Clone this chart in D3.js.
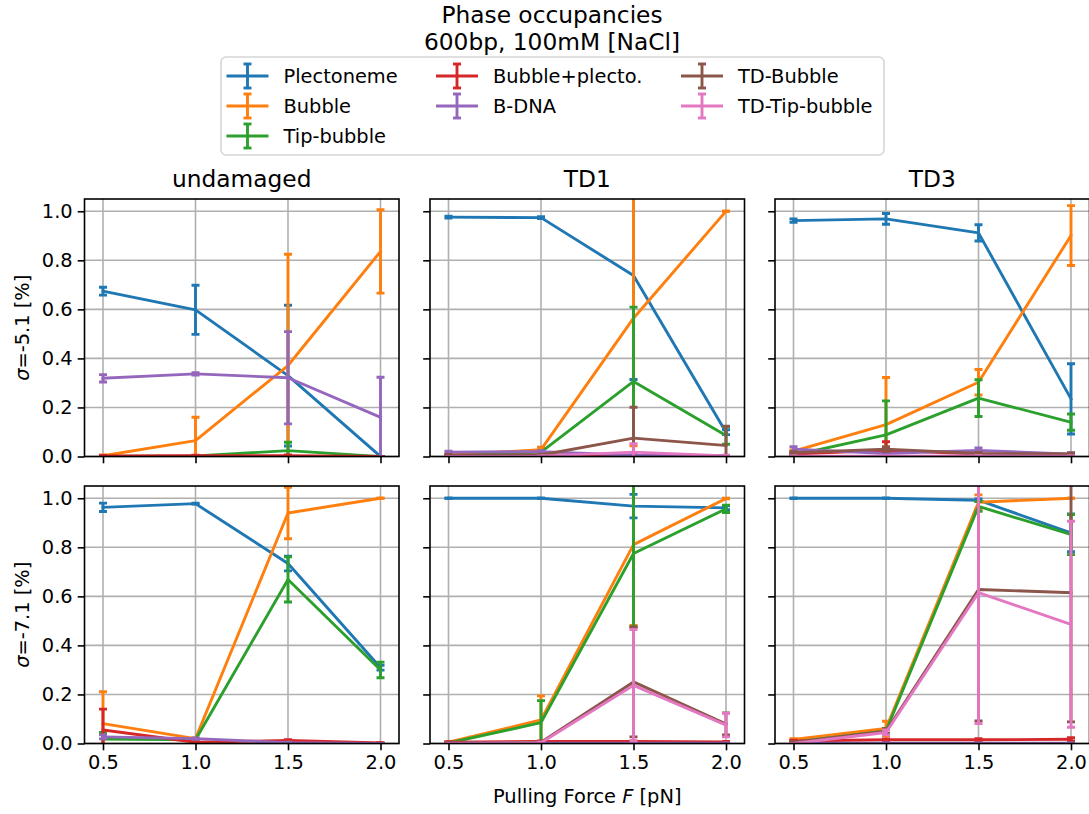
<!DOCTYPE html>
<html><head><meta charset="utf-8">
<script src="https://cdn.jsdelivr.net/npm/d3@7"></script>
<style>body{margin:0;background:#fff}svg{display:block;font-family:"DejaVu Sans",sans-serif}</style>
</head><body><svg id="c" width="1089" height="814"></svg>
<script>
// ---------- data ----------
const forces = [0.5, 1.0, 1.5, 2.0];
const seriesNames = ["Plectoneme","Bubble","Tip-bubble","Bubble+plecto.","B-DNA","TD-Bubble","TD-Tip-bubble"];
const seriesColors = ["#1f77b4","#ff7f0e","#2ca02c","#d62728","#9467bd","#8c564b","#e377c2"];
const conditions = ["undamaged","TD1","TD3"];
const sigmaLabels = ["-5.1","-7.1"];
const xTicks = [0.5, 1.0, 1.5, 2.0];
const yTicks = [0.0, 0.2, 0.4, 0.6, 0.8, 1.0];

// rows follow seriesNames; null = not plotted
const undamaged_s51_val = [
  [0.674,0.598,0.330,0.000],[0.003,0.065,0.371,0.836],[0.000,0.002,0.024,0.000],
  [0.002,0.003,0.003,0.000],[0.319,0.337,0.321,0.160],null,null];
const undamaged_s51_err = [
  [0.016,0.100,0.287,0.000],[0.003,0.095,0.454,0.170],[0.000,0.002,0.034,0.000],
  [0.002,0.002,0.003,0.000],[0.015,0.005,0.188,0.163],null,null];
const TD1_s51_val = [
  [0.976,0.974,0.738,0.099],[0.005,0.028,0.564,1.000],[0.002,0.018,0.306,0.086],
  [0.005,0.005,0.004,0.002],[0.018,0.020,0.005,0.003],[0.005,0.006,0.075,0.045],[0.000,0.001,0.018,0.002]];
const TD1_s51_err = [
  [0.004,0.004,0.424,0.010],[0.002,0.010,0.520,0.000],[0.002,0.005,0.303,0.036],
  [0.002,0.002,0.002,0.002],[0.004,0.004,0.003,0.002],[0.003,0.003,0.126,0.079],[0.000,0.001,0.034,0.002]];
const TD3_s51_val = [
  [0.962,0.969,0.912,0.235],[0.022,0.130,0.303,0.901],[0.005,0.088,0.238,0.140],
  [0.010,0.025,0.010,0.008],[0.030,0.012,0.025,0.010],[0.015,0.030,0.012,0.010],[0.001,0.001,0.002,0.001]];
const TD3_s51_err = [
  [0.007,0.022,0.033,0.143],[0.005,0.192,0.052,0.122],[0.003,0.139,0.075,0.033],
  [0.004,0.035,0.004,0.003],[0.010,0.006,0.010,0.005],[0.005,0.010,0.005,0.004],[0.001,0.001,0.001,0.001]];
const undamaged_s71_val = [
  [0.963,0.978,0.734,0.309],[0.081,0.020,0.940,1.000],[0.018,0.015,0.669,0.300],
  [0.055,0.005,0.012,0.002],[0.027,0.020,0.003,0.000],null,null];
const undamaged_s71_err = [
  [0.017,0.002,0.030,0.010],[0.130,0.003,0.105,0.000],[0.027,0.003,0.092,0.032],
  [0.085,0.002,0.004,0.001],[0.008,0.003,0.002,0.000],null,null];
const TD1_s71_val = [
  [1.000,1.000,0.968,0.961],[0.005,0.096,0.811,0.999],[0.002,0.085,0.775,0.957],
  [0.005,0.008,0.008,0.006],[0.001,0.001,0.001,0.001],[0.001,0.005,0.251,0.080],[0.000,0.003,0.237,0.075]];
const TD1_s71_err = [
  [0.000,0.000,0.048,0.008],[0.002,0.098,0.330,0.001],[0.002,0.090,0.300,0.015],
  [0.002,0.002,0.002,0.002],[0.001,0.001,0.001,0.001],[0.001,0.002,0.224,0.045],[0.000,0.002,0.228,0.048]];
const TD3_s71_val = [
  [1.000,1.000,0.992,0.859],[0.017,0.061,0.984,1.000],[0.005,0.051,0.967,0.852],
  [0.010,0.015,0.015,0.017],[0.001,0.001,0.001,0.001],[0.005,0.050,0.628,0.615],[0.000,0.045,0.615,0.486]];
const TD3_s71_err = [
  [0.000,0.000,0.005,0.077],[0.003,0.030,0.030,0.000],[0.002,0.010,0.020,0.082],
  [0.003,0.004,0.005,0.007],[0.001,0.001,0.001,0.001],[0.002,0.010,0.536,0.527],[0.000,0.010,0.534,0.420]];

const panelVals = [[undamaged_s51_val,TD1_s51_val,TD3_s51_val],[undamaged_s71_val,TD1_s71_val,TD3_s71_val]];
const panelErrs = [[undamaged_s51_err,TD1_s51_err,TD3_s51_err],[undamaged_s71_err,TD1_s71_err,TD3_s71_err]];

// ---------- layout ----------
const svg = d3.select("#c");
const colX = [84.5, 430, 775], pw = 314.5;
const rowY = [199, 486], ph = 257.5;
const FS = 19.4, TFS = 23.3;
const LW = 2.9, CAP = 4;

svg.append("text").attr("x",552).attr("y",23).attr("text-anchor","middle")
  .attr("font-size",TFS).text("Phase occupancies");
svg.append("text").attr("x",552).attr("y",50).attr("text-anchor","middle")
  .attr("font-size",TFS).text("600bp, 100mM [NaCl]");

const defs = svg.append("defs");

for (let r=0;r<2;r++){
  for (let c=0;c<3;c++){
    const x = d3.scaleLinear().domain([0.4,2.1]).range([colX[c], colX[c]+pw]);
    const y = d3.scaleLinear().domain([0,1.05]).range([rowY[r]+ph, rowY[r]]);
    const id = `clip${r}${c}`;
    defs.append("clipPath").attr("id",id).append("rect")
      .attr("x",colX[c]).attr("y",rowY[r]).attr("width",pw).attr("height",ph);
    const g = svg.append("g");
    // grid
    g.selectAll(".gx").data(xTicks).join("line").attr("x1",d=>x(d)).attr("x2",d=>x(d))
      .attr("y1",rowY[r]).attr("y2",rowY[r]+ph).attr("stroke","#b0b0b0").attr("stroke-width",1.6);
    g.selectAll(".gy").data(yTicks).join("line").attr("y1",d=>y(d)).attr("y2",d=>y(d))
      .attr("x1",colX[c]).attr("x2",colX[c]+pw).attr("stroke","#b0b0b0").attr("stroke-width",1.6);
    // data
    const pg = g.append("g").attr("clip-path",`url(#${id})`);
    const vals = panelVals[r][c], errs = panelErrs[r][c];
    seriesNames.forEach((nm,i)=>{
      if (!vals[i]) return;
      const col = seriesColors[i];
      const pts = forces.map((f,k)=>({f, v:vals[i][k], e:errs[i][k]}));
      const eg = pg.append("g").attr("stroke",col).attr("stroke-width",LW);
      pts.forEach(p=>{
        eg.append("line").attr("x1",x(p.f)).attr("x2",x(p.f)).attr("y1",y(p.v-p.e)).attr("y2",y(p.v+p.e));
        [p.v-p.e,p.v+p.e].forEach(yy=>{
          eg.append("line").attr("x1",x(p.f)-CAP).attr("x2",x(p.f)+CAP).attr("y1",y(yy)).attr("y2",y(yy));
        });
      });
      pg.append("path").datum(pts).attr("fill","none").attr("stroke",col).attr("stroke-width",LW)
        .attr("stroke-linejoin","round").attr("stroke-linecap","square")
        .attr("d",d3.line().x(p=>x(p.f)).y(p=>y(p.v)));
    });
    // axes
    const ax = g.append("g").attr("transform",`translate(0,${rowY[r]+ph})`)
      .call(d3.axisBottom(x).tickValues(xTicks).tickSize(6.8).tickPadding(5)
        .tickFormat(r===1? d3.format(".1f") : ()=>""));
    const ay = g.append("g").attr("transform",`translate(${colX[c]},0)`)
      .call(d3.axisLeft(y).tickValues(yTicks).tickSize(6.8).tickPadding(5)
        .tickFormat(c===0? d3.format(".1f") : ()=>""));
    [ax,ay].forEach(a=>{
      a.select(".domain").remove();
      a.selectAll(".tick line").attr("stroke","#000").attr("stroke-width",1.6);
      a.selectAll(".tick text").attr("font-size",FS).attr("fill","#000").attr("font-family","DejaVu Sans");
    });
    g.append("rect").attr("x",colX[c]).attr("y",rowY[r]).attr("width",pw).attr("height",ph)
      .attr("fill","none").attr("stroke","#000").attr("stroke-width",1.6);
    if (r===0){
      g.append("text").attr("x",colX[c]+pw/2).attr("y",187).attr("text-anchor","middle")
        .attr("font-size",TFS).text(conditions[c]);
    }
  }
  const yl = svg.append("text").attr("transform",`translate(29,${rowY[r]+ph/2}) rotate(-90)`)
    .attr("text-anchor","middle").attr("font-size",FS);
  yl.append("tspan").attr("font-style","italic").text("σ");
  yl.append("tspan").text("=" + sigmaLabels[r] + " [%]");
}
const xl = svg.append("text").attr("x",colX[1]+pw/2).attr("y",803).attr("text-anchor","middle").attr("font-size",FS);
xl.append("tspan").text("Pulling Force ");
xl.append("tspan").attr("font-style","italic").text("F");
xl.append("tspan").text(" [pN]");

// legend
const lg = svg.append("g");
lg.append("rect").attr("x",221).attr("y",57).attr("width",663).attr("height",98).attr("rx",5)
  .attr("fill","#fff").attr("fill-opacity",0.8).attr("stroke","#d6d6d6").attr("stroke-width",1.6);
const legCols = [226.5, 436, 681];
const legRows = [76, 106, 136];
const legPos = [[0,0],[0,1],[0,2],[1,0],[1,1],[2,0],[2,1]];
seriesNames.forEach((nm,i)=>{
  const [cc,rr] = legPos[i];
  const hx = legCols[cc], hy = legRows[rr], col = seriesColors[i];
  const e = lg.append("g").attr("stroke",col).attr("stroke-width",LW);
  e.append("line").attr("x1",hx).attr("x2",hx+42).attr("y1",hy).attr("y2",hy);
  e.append("line").attr("x1",hx+21).attr("x2",hx+21).attr("y1",hy-12).attr("y2",hy+12);
  e.append("line").attr("x1",hx+21-CAP).attr("x2",hx+21+CAP).attr("y1",hy-12).attr("y2",hy-12);
  e.append("line").attr("x1",hx+21-CAP).attr("x2",hx+21+CAP).attr("y1",hy+12).attr("y2",hy+12);
  lg.append("text").attr("x",hx+57).attr("y",hy+7).attr("font-size",FS).text(nm);
});
</script></body></html>
